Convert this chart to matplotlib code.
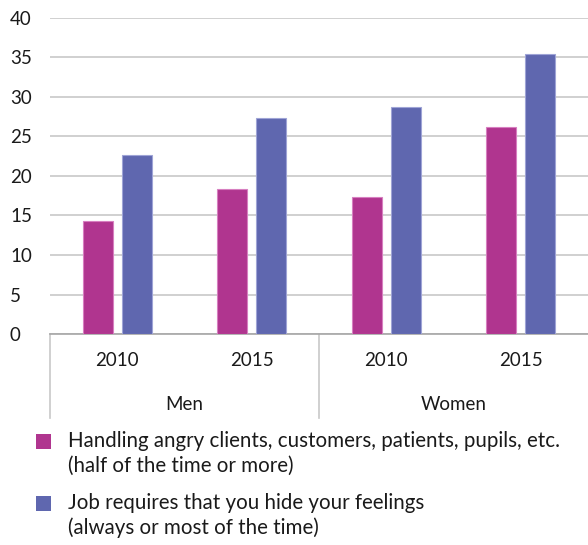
import matplotlib
matplotlib.use("Agg")
import matplotlib.pyplot as plt
from matplotlib.patches import Rectangle
import numpy as np

plt.rcParams['font.family'] = ['Lato', 'DejaVu Sans']

groups = ['Men', 'Women']
years = ['2010', '2015', '2010', '2015']
angry_clients = [14.3, 18.3, 17.3, 26.2]
hide_feelings = [22.6, 27.4, 28.7, 35.5]
series_labels = [['Handling angry clients, customers, patients, pupils, etc.', '(half of the time or more)'],
                 ['Job requires that you hide your feelings', '(always or most of the time)']]

magenta = '#B0358F'
blue = '#5F67AF'
grid_col = '#C8C8C8'
txt_col = '#1a1a1a'
fs = 13.5
legend_fs = 14.8

W, H = 588, 545
fig = plt.figure(figsize=(W / 100, H / 100), dpi=100)
ax = fig.add_axes([50 / W, (H - 334) / H, 1 - 50 / W, 316 / H])

x = np.arange(len(years))
w = 0.223
off = 0.145
ax.bar(x - off, angry_clients, w, color=magenta, edgecolor='#D77FC0', linewidth=0.8, zorder=3)
ax.bar(x + off, hide_feelings, w, color=blue, edgecolor='#9FA4D6', linewidth=0.8, zorder=3)

ax.set_xlim(-0.5, 3.5)
ax.set_ylim(0, 40)
ax.set_yticks(range(0, 41, 5))
ax.yaxis.grid(True, color=grid_col, linewidth=1.2, zorder=0)
ax.set_axisbelow(True)
for s in ['top', 'right', 'left']:
    ax.spines[s].set_visible(False)
ax.spines['bottom'].set_color('#A6A6A6')
ax.spines['bottom'].set_linewidth(1.2)
ax.set_xticks(x)
ax.set_xticklabels([])
ax.tick_params(axis='x', length=0)
ax.tick_params(axis='y', length=0, pad=40 * 0.72, labelsize=fs, labelcolor=txt_col)
for lbl in ax.get_yticklabels():
    lbl.set_horizontalalignment('left')

# two-level category axis under the bars
xt = ax.get_xaxis_transform()
box_bottom = -84 / 316
for xv in [-0.5, 1.5]:
    ax.plot([xv, xv], [0, box_bottom], transform=xt, color=grid_col, linewidth=1.2, clip_on=False)
for xi, yr in zip(x, years):
    ax.text(xi, -27 / 316, yr, transform=xt, ha='center', va='center', fontsize=fs, color=txt_col)
for gi, g in enumerate(groups):
    ax.text(gi * 2 + 0.5, -70 / 316, g, transform=xt, ha='center', va='center', fontsize=fs, color=txt_col)

# legend
for color, lines, y0 in zip([magenta, blue], series_labels, [441, 503]):
    fig.add_artist(Rectangle((36 / W, 1 - (y0 + 7.5) / H), 15 / W, 15 / H,
                             transform=fig.transFigure, facecolor=color, edgecolor='none'))
    for k, line in enumerate(lines):
        fig.text(68 / W, 1 - (y0 + 25 * k) / H, line, ha='left', va='center',
                 fontsize=legend_fs, color=txt_col)

fig.savefig('out.png', dpi=100)
